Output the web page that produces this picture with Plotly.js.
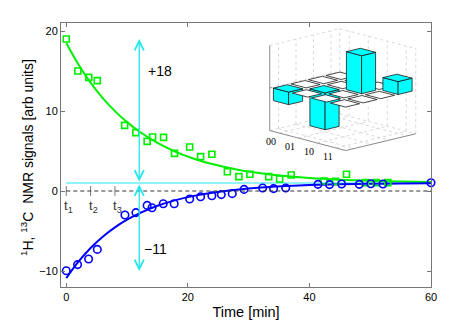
<!DOCTYPE html>
<html><head><meta charset="utf-8">
<script src="https://cdn.plot.ly/plotly-3.0.1.min.js"></script>
<style>html,body{margin:0;padding:0;background:#fff;} #chart{width:457px;height:331px;}</style>
</head><body><div id="chart"></div>
<script>
// ---- main chart data ----
const greenT = [0, 1.9, 3.7, 5.1, 9.6, 11.45, 13.3, 14.2, 16.0, 17.8, 20.3, 22.1, 23.95, 26.5, 28.4, 30.2, 33.3, 35.1, 37.0, 42.4, 44.3, 46.1, 49.2, 51.0, 52.9];
const greenY = [19.0, 15.0, 14.2, 13.8, 8.2, 7.3, 6.2, 6.75, 6.7, 4.7, 5.5, 4.3, 4.6, 2.4, 1.8, 2.1, 1.8, 1.5, 2.0, 1.25, 1.2, 2.1, 1.05, 1.05, 1.05];
const blueT = [0, 1.86, 3.67, 5.1, 9.65, 11.45, 13.3, 14.1, 15.95, 17.75, 20.3, 22.1, 23.95, 25.5, 27.3, 29.25, 32.3, 34.1, 36.1, 41.4, 43.3, 45.3, 48.2, 50.1, 52.1, 60];
const blueY = [-9.96, -9.2, -8.5, -7.3, -3.0, -2.7, -1.8, -2.1, -1.6, -1.6, -1.0, -0.72, -0.6, -0.45, -0.33, 0.2, 0.37, 0.3, 0.37, 0.83, 0.8, 0.87, 0.83, 0.9, 0.87, 1.04];
const fitT = [0, 2, 4, 6, 8, 10, 12, 15, 18, 21, 24, 28, 32, 36, 40, 45, 50, 55, 60];
const greenFit = [18.5, 15.81, 13.54, 11.61, 9.98, 8.61, 7.44, 6.01, 4.90, 4.04, 3.37, 2.70, 2.22, 1.87, 1.62, 1.41, 1.27, 1.18, 1.12];
const blueFit = [-10.9, -8.84, -7.13, -5.72, -4.55, -3.59, -2.80, -1.85, -1.14, -0.61, -0.21, 0.17, 0.44, 0.61, 0.74, 0.84, 0.90, 0.94, 0.96];
const tMarks = [0, 4, 8];
const tNames = ['t<sub>1</sub>', 't<sub>2</sub>', 't<sub>3</sub>'];
const arrowTime = 12;
const equilibrium = 1;
const protonChange = 18;
const carbonChange = -11;
const xTicks = [0, 20, 40, 60];
const yTicks = [-10, 0, 10, 20];
// ---- inset data (4x4 bar matrix, only the diagonal is non-zero) ----
const stateLabels = ['00', '01', '10', '11'];
const populations = [-0.33, -0.97, 1.0, 0.34];

const CYAN = '#22e6ee';
const fmt = v => (v > 0 ? '+' : '\u2212') + Math.abs(v);

const traces = [
  {x: fitT, y: greenFit, mode: 'lines', line: {color: '#00ee00', width: 2, shape: 'spline'}, hoverinfo: 'skip'},
  {x: fitT, y: blueFit, mode: 'lines', line: {color: '#0000ff', width: 2, shape: 'spline'}, hoverinfo: 'skip'},
  {x: greenT, y: greenY, mode: 'markers', cliponaxis: false,
   marker: {symbol: 'square-open', size: 6, color: '#00ee00', line: {width: 1.6, color: '#00ee00'}}},
  {x: blueT, y: blueY, mode: 'markers', cliponaxis: false,
   marker: {symbol: 'circle-open', size: 7.5, color: '#0000ff', line: {width: 1.6, color: '#0000ff'}}},
  {x: tMarks, y: tMarks.map(() => 0), mode: 'markers',
   marker: {symbol: 'line-ns', size: 7, line: {width: 1, color: '#777'}}}
];

// ---- inset: 3D bars drawn through an oblique projection on a second pair of axes ----
const RS = [19, 5], CS = [17.5, -4.2], ZS = 38;  // screen px for one unit of row, column, height
const ZMAX = 1.12, BW = 0.4, LO = -0.5, HI = 3.5;
function P(r, c, z) { return [r * RS[0] + c * CS[0], -(r * RS[1] + c * CS[1]) + z * ZS]; }
function lineTrace(segs, color, dash, width) {
  const x = [], y = [];
  segs.forEach(s => { s.forEach(p => { const q = P(p[0], p[1], p[2]); x.push(q[0]); y.push(q[1]); }); x.push(null); y.push(null); });
  return {x, y, xaxis: 'x2', yaxis: 'y2', mode: 'lines', line: {color, width, dash}, hoverinfo: 'skip', cliponaxis: false};
}
function face(pts, fill) {
  const q = pts.map(p => P(p[0], p[1], p[2]));
  q.push(q[0]);
  return {x: q.map(v => v[0]), y: q.map(v => v[1]), xaxis: 'x2', yaxis: 'y2', mode: 'lines', fill: 'toself',
          fillcolor: fill, line: {color: '#1a1a1a', width: 0.8}, hoverinfo: 'skip', cliponaxis: false};
}
// dotted grid on the back walls and the floor
const grid = [];
[0, 1, 2, 3].forEach(k => {
  grid.push([[LO, k, -ZMAX], [LO, k, ZMAX]]);
  grid.push([[k, HI, -ZMAX], [k, HI, ZMAX]]);
  grid.push([[LO, k, -ZMAX], [HI, k, -ZMAX]]);
  grid.push([[k, LO, -ZMAX], [k, HI, -ZMAX]]);
});
[-ZMAX, 0, ZMAX].forEach(z => { grid.push([[LO, LO, z], [LO, HI, z], [HI, HI, z]]); });
grid.push([[LO, HI, -ZMAX], [LO, HI, ZMAX]]);
grid.push([[HI, HI, -ZMAX], [HI, HI, ZMAX]]);
traces.push(lineTrace(grid, '#cfcfcf', 'dot', 0.8));
// solid box edges (z axis and the two front floor edges)
traces.push(lineTrace([[[LO, LO, ZMAX], [LO, LO, -ZMAX], [HI, LO, -ZMAX], [HI, HI, -ZMAX]],
                       [[LO, LO, 0], [LO, LO + 0.12, 0]]], '#8a8a8a', 'solid', 1));
// cells, far to near
const cells = [];
for (let r = 0; r < 4; r++) for (let c = 0; c < 4; c++) cells.push({r, c, v: r === c ? populations[r] : 0});
cells.sort((a, b) => (b.c - b.r) - (a.c - a.r));
cells.forEach(({r, c, v}) => {
  const r0 = r - BW, r1 = r + BW, c0 = c - BW, c1 = c + BW;
  if (v === 0) {
    traces.push(face([[r0, c0, 0], [r0, c1, 0], [r1, c1, 0], [r1, c0, 0]], '#ffffff'));
  } else {
    const z0 = Math.min(0, v), z1 = Math.max(0, v);
    traces.push(face([[r0, c0, z0], [r1, c0, z0], [r1, c0, z1], [r0, c0, z1]], '#00ffff'));
    traces.push(face([[r1, c0, z0], [r1, c1, z0], [r1, c1, z1], [r1, c0, z1]], '#00ffff'));
    traces.push(face([[r0, c0, z1], [r0, c1, z1], [r1, c1, z1], [r1, c0, z1]], '#00ffff'));
  }
});
const labelAnn = stateLabels.map((s, k) => {
  const q = P(k, LO, -ZMAX);
  return {x: q[0], y: q[1], xref: 'x2', yref: 'y2', text: s, showarrow: false, xanchor: 'center', yanchor: 'top',
          xshift: -8, yshift: -1, font: {family: 'Liberation Serif, Times New Roman, serif', size: 10, color: '#000'}};
});

// inset placement in pixels: box 256..431 x 23..170, cell (00,00) at (288, 88.4)
const OX = 288, OY = 88.4;
const layout = {
  width: 457, height: 331,
  margin: {l: 61, r: 26, t: 23, b: 44},
  paper_bgcolor: '#fff', plot_bgcolor: 'rgba(0,0,0,0)',
  showlegend: false, hovermode: false,
  font: {family: 'Liberation Sans, Arial, sans-serif', color: '#000', size: 11},
  xaxis: {
    range: [-0.87, 60], tickvals: xTicks, ticks: 'inside', ticklen: 4, tickcolor: '#777',
    showline: true, linecolor: '#777', linewidth: 1, mirror: 'ticks', showgrid: false, zeroline: false,
    tickfont: {size: 11},
    title: {text: 'Time [min]', font: {size: 14.5}, standoff: 4}
  },
  yaxis: {
    range: [-12, 21], tickvals: yTicks, ticks: 'inside', ticklen: 4, tickcolor: '#777',
    showline: true, linecolor: '#777', linewidth: 1, mirror: 'ticks', showgrid: false, zeroline: false,
    tickfont: {size: 11}
  },
  xaxis2: {domain: [(256 - 61) / 370, 1], anchor: 'y2', range: [256 - OX, 431 - OX], visible: false, fixedrange: true},
  yaxis2: {domain: [(287 - 170) / 264, 1], anchor: 'x2', range: [OY - 170, OY - 23], visible: false, fixedrange: true},
  shapes: [
    {type: 'line', xref: 'x', yref: 'y', x0: 0, x1: 60, y0: 0, y1: 0, line: {color: '#333', width: 1, dash: '4px,3px'}},
    {type: 'line', xref: 'x', yref: 'y', x0: 0, x1: 60, y0: equilibrium, y1: equilibrium, line: {color: CYAN, width: 1}, layer: 'below'}
  ],
  annotations: [
    {x: (27 - 61) / 370, y: (287 - 158) / 264, xref: 'paper', yref: 'paper', textangle: -90, showarrow: false,
     text: '<sup>1</sup>H, <sup>13</sup>C  NMR signals [arb units]', font: {size: 14}, xanchor: 'center', yanchor: 'middle'},
    {x: arrowTime, y: equilibrium + protonChange, ax: arrowTime, ay: equilibrium, axref: 'x', ayref: 'y', xref: 'x', yref: 'y',
     text: '', showarrow: true, arrowhead: 5, startarrowhead: 5, arrowside: 'end+start', arrowsize: 1.4, startarrowsize: 1.4, arrowwidth: 1.3, arrowcolor: CYAN, standoff: 0, startstandoff: 0},
    {x: arrowTime, y: equilibrium + carbonChange, ax: arrowTime, ay: equilibrium, axref: 'x', ayref: 'y', xref: 'x', yref: 'y',
     text: '', showarrow: true, arrowhead: 5, startarrowhead: 5, arrowside: 'end+start', arrowsize: 1.4, startarrowsize: 1.4, arrowwidth: 1.3, arrowcolor: CYAN, standoff: 0, startstandoff: 0},
    {x: arrowTime + 1.1, y: 15, xref: 'x', yref: 'y', text: fmt(protonChange), showarrow: false, xanchor: 'left', font: {size: 14}},
    {x: arrowTime + 0.4, y: -7.3, xref: 'x', yref: 'y', text: fmt(carbonChange), showarrow: false, xanchor: 'left', font: {size: 14}}
  ].concat(tMarks.map((t, n) => ({x: t, y: -1.9, xref: 'x', yref: 'y', text: tNames[n], showarrow: false, xanchor: 'left', xshift: -4, font: {size: 13, color: '#333'}})))
   .concat(labelAnn)
};

Plotly.newPlot('chart', traces, layout, {staticPlot: true, displayModeBar: false});
</script>
</body></html>
